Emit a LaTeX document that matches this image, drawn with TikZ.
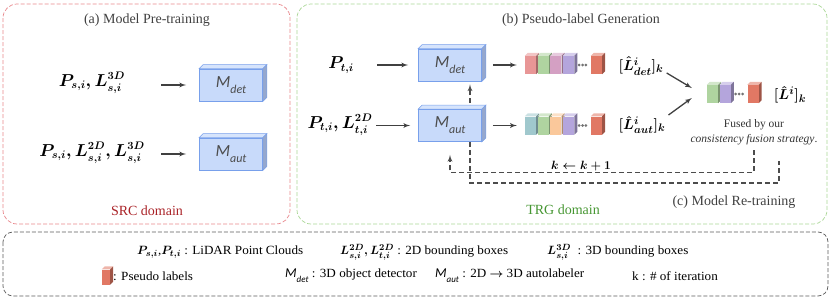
\documentclass[tikz,border=0pt]{standalone}
\usepackage{amsmath,amssymb}
\usepackage{fontspec}
\setmainfont{Liberation Serif}
\newfontfamily\boxfont{Carlito}
\newfontfamily\legfont[FakeStretch=1.05]{Liberation Serif}
\usetikzlibrary{arrows,positioning,calc,backgrounds}

\definecolor{srcline}{RGB}{232,135,140}
\definecolor{srctext}{RGB}{170,35,40}
\definecolor{trgline}{RGB}{170,215,150}
\definecolor{trgtext}{RGB}{70,150,50}
\definecolor{legline}{RGB}{90,90,90}
\definecolor{boxfront}{RGB}{200,218,250}
\definecolor{boxline}{RGB}{120,160,235}
\definecolor{boxtop}{RGB}{214,228,252}
\definecolor{boxside}{RGB}{150,168,205}
\definecolor{cpink}{RGB}{232,150,150}
\definecolor{cgreen}{RGB}{175,212,160}
\definecolor{cmauve}{RGB}{212,160,195}
\definecolor{cpurple}{RGB}{180,165,220}
\definecolor{cteal}{RGB}{160,200,205}
\definecolor{corange}{RGB}{250,200,155}
\definecolor{cred}{RGB}{225,120,100}

\newcommand\mname[2]{{\boxfont\itshape M\raisebox{-0.35em}{\fontsize{#2}{#2}\selectfont #1}}}

\begin{document}
\begin{tikzpicture}[x=1pt, y=-1pt,
  frame/.style={dash pattern=on 4pt off 2pt, rounded corners=14pt, line width=0.7pt},
  model/.style={draw=boxline, fill=boxfront, line width=0.8pt, minimum width=63pt,
                minimum height=32pt, inner sep=0pt, text=black!70,
                font=\fontsize{17}{17}\selectfont},
  bar/.style={minimum width=11pt, minimum height=18pt, inner sep=0pt},
  dots/.style={minimum width=10pt, minimum height=4pt, inner sep=0pt,
               path picture={\foreach \k in {-3.4,0,3.4}
                 \fill[black!55] ([xshift=\k pt]path picture bounding box.center) circle (1.5pt);}},
  arr/.style={-latex', line width=1.3pt, black!75},
  loop/.style={dash pattern=on 5pt off 3pt, line width=1.3pt, black!70},
  title/.style={text=black!75, font=\fontsize{14}{16}\selectfont},
  input/.style={font=\fontsize{16}{18}\selectfont\boldmath},
  plab/.style={inner sep=1pt, font=\fontsize{15}{17}\selectfont\boldmath},
  legend/.style={anchor=west, inner sep=0pt, font=\legfont\fontsize{12.5}{14}\selectfont\boldmath},
  font=\small
]
\useasboundingbox (0,0) rectangle (831,300);

% ===== SRC domain =====
\draw[frame, draw=srcline] (3,4) rectangle (290,224);
\node[title] (atitle) at (147,20) {(a) Model Pre-training};
\node[input] (sin1) at (92,83) {$P_{s,i}, L^{3D}_{s,i}$};
\node[input] (sin2) at (92,153) {$P_{s,i}, L^{2D}_{s,i}, L^{3D}_{s,i}$};
\node[model] (sdet) at (231,85) {\mname{det}{12}};
\node[model] (saut) at (231,154) {\mname{aut}{12}};
\draw[arr] ([xshift=-38pt]sdet.west) -- ([xshift=-13pt]sdet.west);
\draw[arr] ([xshift=-38pt]saut.west) -- ([xshift=-13pt]saut.west);
\node[title, text=srctext] (src) at (147,211) {SRC domain};

% ===== TRG domain =====
\draw[frame, draw=trgline] (297,4) rectangle (827,224);
\node[title] (btitle) at (581,20) {(b) Pseudo-label Generation};
\node[input] (tin1) at (341,65) {$P_{t,i}$};
\node[input] (tin2) at (340,125) {$P_{t,i}, L^{2D}_{t,i}$};
\node[model] (tdet) at (450,65) {\mname{det}{12}};
\node[model] (taut) at (450,125.5) {\mname{aut}{12}};
\draw[arr] ([xshift=-41pt]tdet.west) -- ([xshift=-10pt]tdet.west);
\draw[arr] ([xshift=-42pt]taut.west) -- ([xshift=-8pt]taut.west);
\draw[loop, -latex'] ([shift={(20,-6)}]taut.north) -- ([shift={(20,3)}]tdet.south);

% pseudo labels of the detector
\node[bar, fill=cpink] (d1) at (530.5,65) {};
\node[bar, fill=cgreen, right=1.3pt of d1] (d2) {};
\node[bar, fill=cmauve, right=1.3pt of d2] (d3) {};
\node[bar, fill=cpurple, right=1.3pt of d3] (d4) {};
\node[dots, right=3pt of d4] (d5) {};
\node[bar, fill=cred, right=3pt of d5] (d6) {};
\node[plab] (ldet) at (641,66) {$[\hat{L}^{i}_{det}]_k$};
\draw[arr] ([xshift=11pt]tdet.east) -- ([xshift=-8pt]d1.west);

% pseudo labels of the autolabeler
\node[bar, fill=cteal] (a1) at (530.5,125.5) {};
\node[bar, fill=cgreen, right=1.3pt of a1] (a2) {};
\node[bar, fill=corange, right=1.3pt of a2] (a3) {};
\node[bar, fill=cpurple, right=1.3pt of a3] (a4) {};
\node[dots, right=3pt of a4] (a5) {};
\node[bar, fill=cred, right=3pt of a5] (a6) {};
\node[plab] (laut) at (642,125) {$[\hat{L}^{i}_{aut}]_k$};
\draw[arr] ([xshift=11pt]taut.east) -- ([xshift=-8pt]a1.west);

% fused pseudo labels
\node[bar, fill=cgreen] (f1) at (712.5,94) {};
\node[bar, fill=cpurple, right=1.3pt of f1] (f2) {};
\node[dots, right=3pt of f2] (f3) {};
\node[bar, fill=cred, right=3pt of f3] (f4) {};
\node[plab] (lfused) at (790,95) {$[\hat{L}^{i}]_k$};
\draw[arr] ([shift={(2,7)}]ldet.east) -- ([shift={(-15,-6)}]f1.west);
\draw[arr] ([shift={(2,-10)}]laut.east) -- ([shift={(-15,4)}]f1.west);
\node[align=center, font=\fontsize{11.5}{15}\selectfont, text=black!80] (fcap) at (754,132)
  {Fused by our\\\textit{consistency fusion strategy}.};

% ===== Re-training loop =====
\draw[loop, -latex'] ([shift={(0,2)}]fcap.south) -- ++(0,22) -| ([shift={(0,13)}]taut.south);
\draw[loop] ([shift={(20,0)}]taut.south) -- ++(0,41) -| ([shift={(25,13)}]fcap.south);
\node[font=\fontsize{12}{14}\selectfont\boldmath] (kstep) at (581,166) {$k \leftarrow k+1$};
\node[title] (ctitle) at (734,202) {(c) Model Re-training};
\node[title, text=trgtext] (trg) at (563,210) {TRG domain};

% ===== Legend =====
\draw[frame, draw=legline, rounded corners=10pt] (3,232) rectangle (828,296);
\node[legend] (lg1) at (137,252) {$P_{s,i}$,$P_{t,i}$ : LiDAR Point Clouds};
\node[legend] (lg2) at (340,252) {$L^{2D}_{s,i}, L^{2D}_{t,i}$ : 2D bounding boxes};
\node[legend] (lg3) at (547,252) {$L^{3D}_{s,i}$ \ : 3D bounding boxes};
\node[bar, fill=cred, minimum width=8pt, minimum height=15pt] (lgbar) at (106,277) {};
\node[legend] (lg4) at (113,276) {: Pseudo labels};
\node[legend] (lg5) at (285,276) {{\fontsize{13.5}{13.5}\selectfont\mname{det}{9}} : 3D object detector};
\node[legend] (lg6) at (435,276) {{\fontsize{13.5}{13.5}\selectfont\mname{aut}{9}} : 2D $\rightarrow$ 3D autolabeler};
\node[legend] (lg7) at (632,276) {k : \# of iteration};

% ===== 3D faces =====
\begin{pgfonlayer}{background}
\foreach \nm in {sdet,saut,tdet,taut} {
  \filldraw[draw=boxline, fill=boxtop, line width=0.6pt] (\nm.north west) -- ++(4,-4)
    -- ([shift={(4,-4)}]\nm.north east) -- (\nm.north east) -- cycle;
  \filldraw[draw=boxline, fill=boxside, line width=0.6pt] (\nm.north east) -- ++(4,-4)
    -- ([shift={(4,-4)}]\nm.south east) -- (\nm.south east) -- cycle;
}
\foreach \nm/\col in {d1/cpink, d2/cgreen, d3/cmauve, d4/cpurple, d6/cred,
                      a1/cteal, a2/cgreen, a3/corange, a4/cpurple, a6/cred,
                      f1/cgreen, f2/cpurple, f4/cred, lgbar/cred} {
  \fill[\col!55!white] (\nm.north west) -- ++(3,-3)
    -- ([shift={(3,-3)}]\nm.north east) -- (\nm.north east) -- cycle;
  \fill[\col!70!black] (\nm.north east) -- ++(3,-3)
    -- ([shift={(3,-3)}]\nm.south east) -- (\nm.south east) -- cycle;
}
\end{pgfonlayer}

\end{tikzpicture}
\end{document}
